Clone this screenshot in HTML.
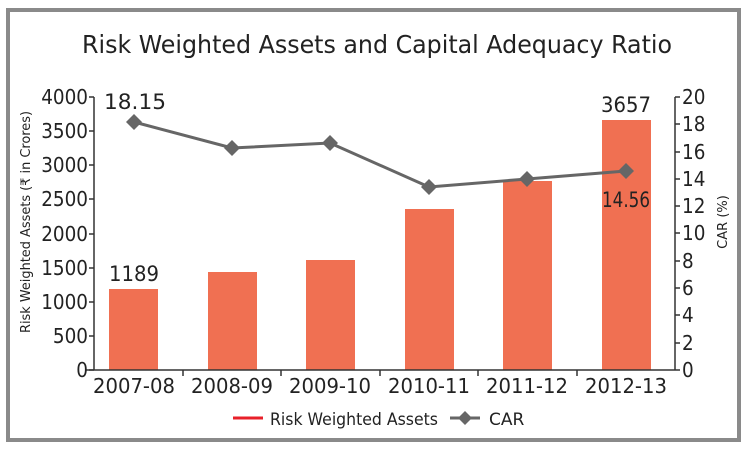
<!DOCTYPE html>
<html><head><meta charset="utf-8"><style>
html,body{margin:0;padding:0;background:#fff;}
svg{display:block;font-family:"DejaVu Sans","Liberation Sans",sans-serif;}
</style></head><body>
<svg width="750" height="453" viewBox="0 0 750 453" xmlns="http://www.w3.org/2000/svg">
<rect x="8" y="10" width="731" height="430" fill="#fff" stroke="#8a8a8a" stroke-width="4"/>
<text x="377" y="53" font-size="25" text-anchor="middle" fill="#222" textLength="590" lengthAdjust="spacingAndGlyphs">Risk Weighted Assets and Capital Adequacy Ratio</text>
<g fill="#f07052">
<rect x="109" y="289" width="49" height="81"/>
<rect x="208" y="272" width="49" height="98"/>
<rect x="306" y="260" width="49" height="110"/>
<rect x="405" y="209" width="49" height="161"/>
<rect x="503" y="181" width="49" height="189"/>
<rect x="602" y="120" width="49" height="250"/>
</g>
<g stroke="#333" stroke-width="1.5" fill="none">
<line x1="94" y1="97" x2="94" y2="370"/>
<line x1="675" y1="97" x2="675" y2="370"/>
<line x1="85" y1="370" x2="675" y2="370"/>
<path d="M89 97H94M89 131H94M89 165H94M89 199H94M89 234H94M89 268H94M89 302H94M89 336H94M89 370H94"/>
<path d="M675 97H680M675 124H680M675 152H680M675 179H680M675 206H680M675 233H680M675 261H680M675 288H680M675 315H680M675 343H680M675 370H680"/>
<path d="M183 370V376M281 370V376M380 370V376M478 370V376M577 370V376"/>
</g>
<g font-size="20" fill="#222" text-anchor="end" transform="translate(88,0) scale(0.92,1) translate(-88,0)">
<text x="88" y="104">4000</text><text x="88" y="138">3500</text><text x="88" y="172">3000</text>
<text x="88" y="206">2500</text><text x="88" y="241">2000</text><text x="88" y="275">1500</text>
<text x="88" y="309">1000</text><text x="88" y="343">500</text><text x="88" y="377">0</text>
</g>
<g font-size="20" fill="#222" text-anchor="start" transform="translate(682,0) scale(0.92,1) translate(-682,0)">
<text x="682" y="104">20</text><text x="682" y="131">18</text><text x="682" y="159">16</text>
<text x="682" y="186">14</text><text x="682" y="213">12</text><text x="682" y="240">10</text>
<text x="682" y="268">8</text><text x="682" y="295">6</text><text x="682" y="322">4</text>
<text x="682" y="350">2</text><text x="682" y="377">0</text>
</g>
<g font-size="20" fill="#222" text-anchor="middle">
<text x="134" y="393" textLength="82" lengthAdjust="spacingAndGlyphs">2007-08</text><text x="232" y="393" textLength="82" lengthAdjust="spacingAndGlyphs">2008-09</text><text x="330" y="393" textLength="82" lengthAdjust="spacingAndGlyphs">2009-10</text>
<text x="429" y="393" textLength="82" lengthAdjust="spacingAndGlyphs">2010-11</text><text x="527" y="393" textLength="82" lengthAdjust="spacingAndGlyphs">2011-12</text><text x="626" y="393" textLength="82" lengthAdjust="spacingAndGlyphs">2012-13</text>
</g>
<text transform="translate(30,222) rotate(-90)" font-size="13" fill="#222" text-anchor="middle" textLength="222" lengthAdjust="spacingAndGlyphs">Risk Weighted Assets (₹ in Crores)</text>
<text transform="translate(727,222) rotate(-90)" font-size="13" fill="#222" text-anchor="middle">CAR (%)</text>
<polyline points="134,122 232,148 330,143 429,187 527,179 626,171" fill="none" stroke="#666" stroke-width="3"/>
<g fill="#666">
<path d="M134 114L142 122L134 130L126 122Z"/><path d="M232 140L240 148L232 156L224 148Z"/>
<path d="M330 135L338 143L330 151L322 143Z"/><path d="M429 179L437 187L429 195L421 187Z"/>
<path d="M527 171L535 179L527 187L519 179Z"/><path d="M626 163L634 171L626 179L618 171Z"/>
</g>
<g font-size="21" fill="#222" text-anchor="middle">
<text x="135" y="109" textLength="62" lengthAdjust="spacingAndGlyphs">18.15</text>
<text x="134" y="281" textLength="50" lengthAdjust="spacingAndGlyphs">1189</text>
<text x="626" y="112" textLength="50" lengthAdjust="spacingAndGlyphs">3657</text>
<text x="626" y="207" textLength="48" lengthAdjust="spacingAndGlyphs">14.56</text>
</g>
<line x1="233" y1="418" x2="263" y2="418" stroke="#e8202a" stroke-width="3"/>
<text x="270" y="425" font-size="17" fill="#222" textLength="168" lengthAdjust="spacingAndGlyphs">Risk Weighted Assets</text>
<line x1="450" y1="418" x2="480" y2="418" stroke="#666" stroke-width="3"/>
<path d="M465 411L472 418L465 425L458 418Z" fill="#666"/>
<text x="489" y="425" font-size="17" fill="#222">CAR</text>
</svg>
</body></html>
